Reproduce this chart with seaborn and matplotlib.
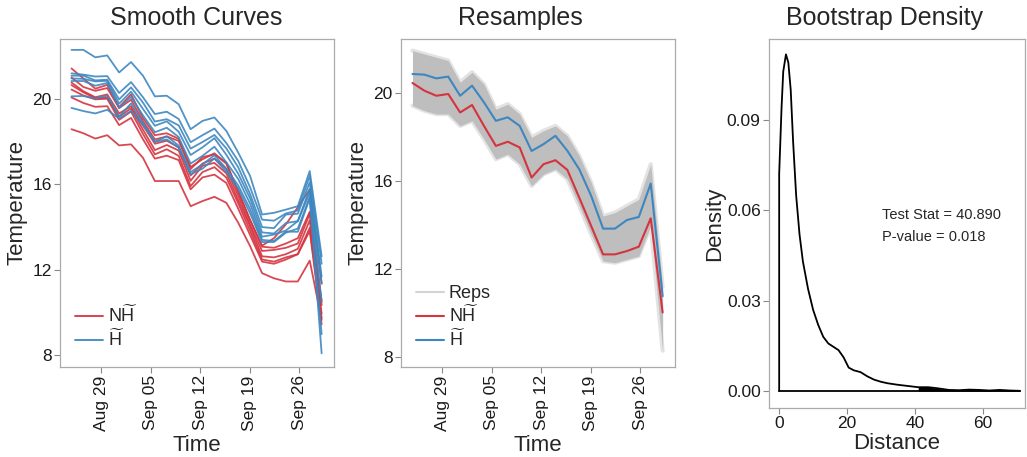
import numpy as np
import pandas as pd
import matplotlib
matplotlib.use('Agg')
import matplotlib.pyplot as plt
import matplotlib.dates as mdates
import matplotlib.ticker as mticker
from matplotlib.lines import Line2D
import seaborn as sns

sns.set_theme(style='white')
plt.rcParams['font.family'] = ['Liberation Sans', 'DejaVu Sans']
plt.rcParams['mathtext.fontset'] = 'custom'
plt.rcParams['mathtext.rm'] = 'Liberation Sans'
plt.rcParams['mathtext.it'] = 'Liberation Sans:italic'

# ---------------- data ----------------
times = pd.date_range('2014-08-24 18:00', '2014-09-29 04:00', periods=22)

red_1 = [21.44, 20.97, 20.49, 20.67, 19.63, 20.22, 19.12, 18.31, 18.40, 18.14, 16.82, 17.18, 17.46, 16.97, 15.66, 14.32, 13.13, 13.48, 14.13, 14.93, 15.76, 11.34]
red_2 = [21.02, 20.57, 20.39, 20.52, 19.58, 19.97, 18.97, 18.11, 18.25, 18.04, 16.72, 17.28, 17.41, 17.02, 15.66, 14.32, 13.08, 13.03, 13.23, 13.48, 14.72, 10.54]
red_3 = [20.78, 20.37, 20.09, 20.22, 19.33, 19.67, 18.77, 17.91, 18.05, 17.74, 16.42, 16.98, 17.21, 16.72, 15.46, 14.12, 12.88, 12.93, 13.03, 13.23, 14.62, 10.34]
red_4 = [20.66, 20.32, 20.04, 20.07, 19.18, 19.57, 18.57, 17.61, 17.85, 17.59, 16.17, 16.88, 17.01, 16.52, 15.26, 14.02, 12.63, 12.58, 12.73, 12.98, 14.32, 9.94]
red_5 = [20.45, 20.17, 19.99, 20.02, 19.03, 19.42, 18.37, 17.41, 17.65, 17.34, 15.92, 16.58, 16.81, 16.32, 15.11, 13.82, 12.48, 12.38, 12.58, 12.73, 13.97, 9.74]
red_6 = [20.08, 19.82, 19.64, 19.67, 18.78, 19.12, 18.12, 17.21, 17.35, 17.14, 15.77, 16.33, 16.46, 16.07, 14.86, 13.62, 12.38, 12.28, 12.48, 12.73, 13.82, 9.44]
red_7 = [18.59, 18.40, 18.15, 18.31, 17.83, 17.88, 17.25, 16.16, 16.16, 16.16, 14.98, 15.22, 15.42, 15.14, 14.20, 13.10, 11.84, 11.60, 11.45, 11.45, 12.43, 9.65]

blue_1 = [22.31, 22.31, 21.96, 22.05, 21.25, 21.74, 21.10, 20.13, 20.16, 19.76, 18.59, 18.98, 19.14, 18.51, 17.49, 16.39, 14.59, 14.67, 14.82, 14.98, 16.63, 12.63]
blue_2 = [21.21, 21.15, 21.06, 21.08, 20.29, 20.80, 20.09, 19.30, 19.41, 19.07, 17.98, 18.31, 18.62, 17.94, 17.10, 15.86, 14.35, 14.30, 14.64, 14.78, 16.40, 12.28]
blue_3 = [21.10, 21.10, 20.88, 20.91, 19.99, 20.55, 19.84, 18.95, 19.06, 18.77, 17.68, 17.99, 18.32, 17.69, 16.80, 15.54, 14.00, 13.95, 14.59, 14.63, 16.10, 11.68]
blue_4 = [20.97, 20.95, 20.83, 20.86, 19.79, 20.35, 19.54, 18.75, 18.96, 18.47, 17.38, 17.74, 18.17, 17.39, 16.50, 15.34, 13.75, 13.70, 14.19, 14.28, 15.80, 11.38]
blue_5 = [20.85, 20.85, 20.63, 20.76, 19.59, 20.10, 19.24, 18.45, 18.66, 18.22, 16.98, 17.34, 17.77, 17.04, 16.25, 15.09, 13.55, 13.65, 13.84, 14.28, 15.60, 10.48]
blue_6 = [20.13, 20.15, 20.03, 20.16, 19.19, 19.80, 18.89, 18.00, 18.26, 17.82, 16.58, 16.94, 17.37, 16.74, 15.95, 14.84, 13.40, 13.35, 13.79, 13.78, 15.35, 8.98]
blue_7 = [19.59, 19.44, 19.33, 19.50, 19.09, 19.45, 18.79, 18.00, 18.11, 17.72, 16.48, 16.74, 17.22, 16.59, 15.80, 14.64, 13.30, 13.30, 13.74, 13.93, 15.40, 8.08]

# resamples panel
red_mean = [20.47, 20.12, 19.89, 19.97, 19.13, 19.47, 18.52, 17.61, 17.80, 17.54, 16.17, 16.78, 16.96, 16.52, 15.26, 13.97, 12.68, 12.68, 12.83, 13.03, 14.32, 10.04]
blue_mean = [20.88, 20.85, 20.68, 20.76, 19.89, 20.35, 19.59, 18.75, 18.91, 18.52, 17.38, 17.69, 18.07, 17.39, 16.55, 15.34, 13.85, 13.85, 14.24, 14.38, 15.90, 10.78]
reps_upper = [21.94, 21.79, 21.64, 21.49, 20.50, 20.96, 20.42, 19.28, 19.51, 19.06, 18.00, 18.30, 18.52, 18.07, 17.16, 15.95, 14.42, 14.58, 14.88, 15.18, 16.78, 11.20]
reps_lower = [19.44, 19.21, 19.06, 19.06, 18.52, 18.75, 17.92, 17.01, 17.23, 16.78, 15.79, 16.32, 16.55, 16.10, 14.88, 13.59, 12.37, 12.30, 12.45, 12.60, 13.97, 8.30]

# bootstrap density
dist_x = [0.0, 0.0, 0.7, 1.2, 2.0, 2.7, 3.4, 4.1, 5.0, 6.0, 7.0, 8.5, 10.0, 11.5, 13.0, 14.5, 16.0, 17.5, 19.0, 20.5, 22.0, 24.0, 26.0, 28.0, 30.0, 32.0, 35.0, 38.0, 41.0, 44.0, 47.0, 50.0, 53.0, 56.0, 59.0, 62.0, 65.0, 68.0, 71.0, 71.0]
dens_y = [0.0, 0.072, 0.094, 0.106, 0.1117, 0.109, 0.100, 0.083, 0.065, 0.052, 0.043, 0.034, 0.027, 0.022, 0.018, 0.0158, 0.0147, 0.0136, 0.0112, 0.0078, 0.0069, 0.0063, 0.0049, 0.0038, 0.0031, 0.0026, 0.0021, 0.0017, 0.0013, 0.0013, 0.0009, 0.0004, 0.0003, 0.0005, 0.0004, 0.0002, 0.0004, 0.0002, 0.0001, 0.0]
test_stat = 40.890
p_value = 0.018

date_ticks = ['2014-08-29', '2014-09-05', '2014-09-12', '2014-09-19', '2014-09-26']
temp_ticks = [8, 12, 16, 20]
dens_ticks = [0.00, 0.03, 0.06, 0.09]
dist_ticks = [0, 20, 40, 60]

LAB_NH = r'N$\widetilde{\mathrm{H}}$'
LAB_H = r'$\widetilde{\mathrm{H}}$'
RED = '#d5343f'
BLUE = '#3d87c0'
GREY_REP = '#bebebe'

# ---------------- figure ----------------
W, H = 1027, 457
fig = plt.figure(figsize=(W / 100, H / 100), dpi=100)

def box(l, t, r, b):
    return [l / W, 1 - b / H, (r - l) / W, (b - t) / H]

ax1 = fig.add_axes(box(60, 39, 334, 367))
ax2 = fig.add_axes(box(401, 39, 675, 367))
ax3 = fig.add_axes(box(769, 39, 1025, 408))

# panel 1
rows = []
for i, v in enumerate([red_1, red_2, red_3, red_4, red_5, red_6, red_7]):
    rows.append(pd.DataFrame({'time': times, 'temp': v, 'group': LAB_NH, 'line': f'r{i}'}))
for i, v in enumerate([blue_1, blue_2, blue_3, blue_4, blue_5, blue_6, blue_7]):
    rows.append(pd.DataFrame({'time': times, 'temp': v, 'group': LAB_H, 'line': f'b{i}'}))
df1 = pd.concat(rows, ignore_index=True)
sns.lineplot(data=df1, x='time', y='temp', hue='group', units='line', estimator=None,
             palette={LAB_NH: RED, LAB_H: BLUE}, linewidth=1.3, alpha=0.9, ax=ax1, legend=False)

# panel 2
ax2.fill_between(times, reps_lower, reps_upper, color=GREY_REP, lw=0, zorder=1)
ax2.plot(times, reps_upper, color='#d8d8d8', lw=3, alpha=0.7, zorder=0.9)
ax2.plot(times, reps_lower, color='#d8d8d8', lw=3, alpha=0.7, zorder=0.9)
df2 = pd.concat([
    pd.DataFrame({'time': times, 'temp': red_mean, 'group': LAB_NH}),
    pd.DataFrame({'time': times, 'temp': blue_mean, 'group': LAB_H}),
], ignore_index=True)
sns.lineplot(data=df2, x='time', y='temp', hue='group', estimator=None,
             palette={LAB_NH: RED, LAB_H: BLUE}, linewidth=1.5, ax=ax2, legend=False, zorder=3)

for ax in (ax1, ax2):
    ax.set_xlim(pd.Timestamp('2014-08-23 03:00'), pd.Timestamp('2014-09-30 22:00'))
    ax.set_yticks(temp_ticks)
    ax.set_xticks([pd.Timestamp(d) for d in date_ticks])
    ax.xaxis.set_major_formatter(mdates.DateFormatter('%b %d'))
    ax.tick_params(axis='x', labelrotation=90)
    ax.set_xlabel('Time', fontsize=16)
    ax.set_ylabel('Temperature', fontsize=16)
    ax.xaxis.set_label_coords(0.5, -0.208)
    ax.yaxis.set_label_coords(-0.117, 0.5)
ax1.set_ylim(7.44, 22.82)
ax2.set_ylim(7.56, 22.47)

h1 = [Line2D([], [], color=RED, lw=1.3, label=LAB_NH), Line2D([], [], color=BLUE, lw=1.3, label=LAB_H)]
ax1.legend(handles=h1, loc='lower left', bbox_to_anchor=(0.03, 0.03), frameon=False, fontsize=13,
           handlelength=1.5, handletextpad=0.3, labelspacing=0.15, borderaxespad=0)
h2 = [Line2D([], [], color='#d3d3d3', lw=1.5, label='Reps')] + \
     [Line2D([], [], color=RED, lw=1.5, label=LAB_NH), Line2D([], [], color=BLUE, lw=1.5, label=LAB_H)]
ax2.legend(handles=h2, loc='lower left', bbox_to_anchor=(0.03, 0.03), frameon=False, fontsize=13,
           handlelength=1.5, handletextpad=0.3, labelspacing=0.15, borderaxespad=0)

# panel 3
dx = np.array(dist_x)
dy = np.array(dens_y)
sns.lineplot(x=dx, y=dy, sort=False, estimator=None, color='black', linewidth=1.3, ax=ax3)
ax3.plot([dist_x[0], dist_x[-1]], [0, 0], color='black', lw=1.3)
ax3.fill_between(dx, 0, dy, where=dx >= test_stat, color='black', lw=0)
ax3.text(30.2, 0.0584, f'Test Stat = {test_stat:.3f}', fontsize=10.5, va='center', ha='left')
ax3.text(30.2, 0.0512, f'P-value = {p_value:.3f}', fontsize=10.5, va='center', ha='left')
ax3.set_xlim(-3.0, 72.5)
ax3.set_ylim(-0.0056, 0.1168)
ax3.set_yticks(dens_ticks)
ax3.set_xticks(dist_ticks)
ax3.yaxis.set_major_formatter(mticker.FormatStrFormatter('%.2f'))
ax3.set_xlabel('Distance', fontsize=16)
ax3.set_ylabel('Density', fontsize=16)
ax3.xaxis.set_label_coords(0.5, -0.068)
ax3.yaxis.set_label_coords(-0.172, 0.5)

for ax in (ax1, ax2, ax3):
    for s in ax.spines.values():
        s.set_color('#aaaaaa')
        s.set_linewidth(0.9)
    ax.tick_params(direction='out', length=4, width=0.8, color='#888888', labelsize=12.5,
                   labelcolor='#1a1a1a', bottom=True, left=True, pad=2)
    ax.grid(False)

fig.text(196 / W, 1 - 18 / H, 'Smooth Curves', ha='center', va='center', fontsize=18)
fig.text(520 / W, 1 - 18 / H, 'Resamples', ha='center', va='center', fontsize=18)
fig.text(885 / W, 1 - 18 / H, 'Bootstrap Density', ha='center', va='center', fontsize=18)

fig.savefig('out.png', dpi=100, facecolor='white')
